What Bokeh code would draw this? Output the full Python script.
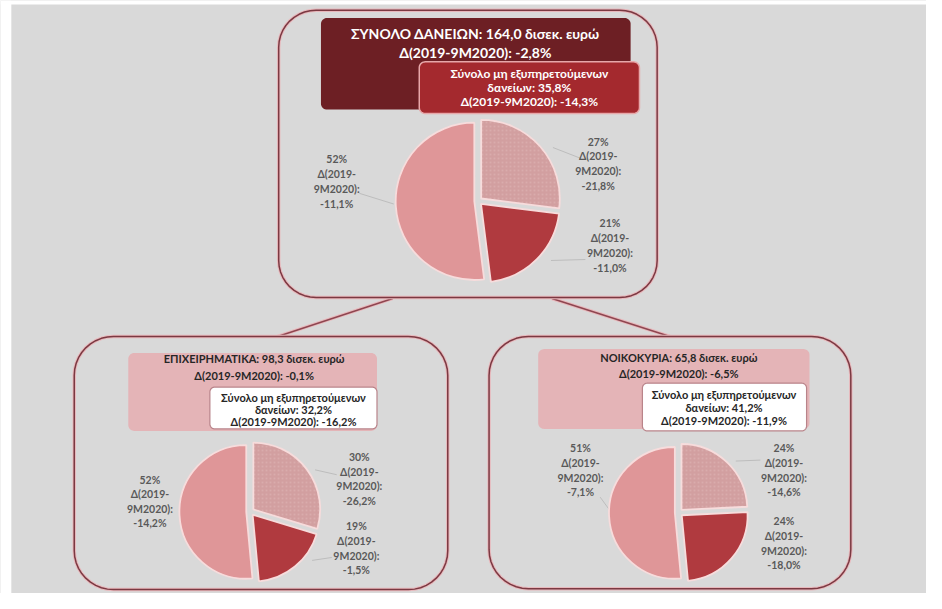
import math
from bokeh.plotting import figure
from bokeh.models import Range1d, ColumnDataSource
from bokeh.core.properties import value
from bokeh.embed import file_html
from bokeh.resources import INLINE

# ---------------- data ----------------
top_title = ["ΣΥΝΟΛΟ ΔΑΝΕΙΩΝ: 164,0 δισεκ. ευρώ", "Δ(2019-9Μ2020): -2,8%"]
top_npl = ["Σύνολο μη εξυπηρετούμενων", "δανείων: 35,8%", "Δ(2019-9Μ2020): -14,3%"]
top_shares = [27, 21, 52]
top_changes = ["-21,8%", "-11,0%", "-11,1%"]

biz_title = ["ΕΠΙΧΕΙΡΗΜΑΤΙΚΑ: 98,3 δισεκ. ευρώ", "Δ(2019-9Μ2020): -0,1%"]
biz_npl = ["Σύνολο μη εξυπηρετούμενων", "δανείων: 32,2%", "Δ(2019-9Μ2020): -16,2%"]
biz_shares = [30, 19, 52]
biz_changes = ["-26,2%", "-1,5%", "-14,2%"]

hh_title = ["ΝΟΙΚΟΚΥΡΙΑ: 65,8 δισεκ. ευρώ", "Δ(2019-9Μ2020): -6,5%"]
hh_npl = ["Σύνολο μη εξυπηρετούμενων", "δανείων: 41,2%", "Δ(2019-9Μ2020): -11,9%"]
hh_shares = [24, 24, 51]
hh_changes = ["-14,6%", "-18,0%", "-7,1%"]

slice_colors = ["#d29fa0", "#b03a3f", "#df9698"]

# ---------------- layout (reference-pixel coordinates) ----------------
FONT = "Lato"
W, H = 926, 593
BG = "#d9d9d9"

p = figure(width=W, height=H, output_backend="svg", toolbar_location=None,
           x_range=Range1d(0, 942), y_range=Range1d(0, 609),
           x_axis_type=None, y_axis_type=None, min_border=0)
p.grid.visible = False
p.outline_line_color = None
p.background_fill_color = BG
p.border_fill_color = BG


def Y(y):
    return 609 - y


# white page strips (left / top) as in the reference scan
p.quad(left=[0, 0], right=[11, 942], bottom=[Y(609), Y(4)], top=[Y(0), Y(0)],
       fill_color="white", line_color=None)


def rrect(x0, y0, x1, y1, r, n=10):
    xs, ys = [], []
    corners = [(x1 - r, y0 + r, 90, 0), (x1 - r, y1 - r, 0, -90),
               (x0 + r, y1 - r, -90, -180), (x0 + r, y0 + r, 180, 90)]
    for cx, cy, a0, a1 in corners:
        for i in range(n + 1):
            a = math.radians(a0 + (a1 - a0) * i / n)
            xs.append(cx + r * math.cos(a))
            ys.append(Y(cy - r * math.sin(a)))
    return xs, ys


def outline_box(x0, y0, x1, y1, r):
    xs, ys = rrect(x0, y0, x1, y1, r)
    xs.append(xs[0]); ys.append(ys[0])
    p.line(xs, ys, line_color="#e8b8bc", line_width=3.5)
    p.line(xs, ys, line_color="#7b3942", line_width=1.5)


def fill_box(x0, y0, x1, y1, r, fill, line=None, lw=1.0):
    xs, ys = rrect(x0, y0, x1, y1, r)
    p.patch(xs, ys, fill_color=fill, line_color=line, line_width=lw)


def texts(lines, cx, ys, size, color, bold=True):
    src = ColumnDataSource(dict(x=[cx] * len(lines), y=[Y(v) for v in ys], t=lines))
    p.text("x", "y", text="t", source=src, text_align="center", text_baseline="middle",
           text_font=value(FONT), text_font_size=size, text_color=color,
           text_font_style="bold" if bold else "normal")


def pie(shares, changes, cx, cy, r, explode, label_pos, spacing=15.2):
    total = float(sum(shares))
    cum = 0.0
    for i, s in enumerate(shares):
        a0 = cum / total * 360.0
        a1 = (cum + s) / total * 360.0
        cum += s
        mid = math.radians(90 - (a0 + a1) / 2)
        x = cx + explode * math.cos(mid)
        y = Y(cy) + explode * math.sin(mid)
        kw = {}
        if i == 0:
            kw = dict(hatch_pattern="dot", hatch_color="#e4c2c2", hatch_scale=4, hatch_alpha=0.35)
        p.wedge(x=x, y=y, radius=r, start_angle=math.radians(90 - a0),
                end_angle=math.radians(90 - a1), direction="clock",
                fill_color=slice_colors[i], line_color="#f7dcdc", line_width=1.8, **kw)
        lx, ly = label_pos[i]
        lines = ["%d%%" % s, "Δ(2019-", "9Μ2020):", changes[i]]
        texts(lines, lx, [ly + k * spacing for k in range(4)], "10.5px", "#595959")


def leaders(segs):
    for (x0, y0, x1, y1) in segs:
        p.line([x0, x1], [Y(y0), Y(y1)], line_color="#bdbdbd", line_width=1)


# connectors between boxes
for seg in [(399, 306, 282, 345), (561, 306, 681, 345)]:
    xs = [seg[0], seg[2]]; ys = [Y(seg[1]), Y(seg[3])]
    p.line(xs, ys, line_color="#e8b8bc", line_width=3.5)
    p.line(xs, ys, line_color="#8e4650", line_width=1.5)

# ---- top block
outline_box(283, 10, 668, 305, 38)
fill_box(326, 18, 641, 112, 6, "#6d1f24")
texts(top_title, 483, [34, 53], "14px", "white")
fill_box(426, 63, 650, 116, 6, "#a4292e", line="#e7a7a9", lw=1.5)
texts(top_npl, 538, [75, 89.5, 104], "12px", "white")
leaders([(365, 198, 400, 209), (562, 151, 590, 162), (560, 267, 595, 266)])
pie(top_shares, top_changes, 486, 206, 80, 4, [(608, 145), (620, 229), (342, 163)])

# ---- business block
outline_box(75, 345, 455, 605, 40)
fill_box(130, 362, 383, 442, 6, "#e4b4b7")
texts(biz_title, 258, [368, 385], "11px", "#262626")
fill_box(213, 397, 383, 440, 5, "white", line="#b9848a", lw=1.2)
texts(biz_npl, 298, [407.5, 420, 432.5], "11px", "#262626")
leaders([(320, 482, 342, 487), (317, 575, 337, 572)])
pie(biz_shares, biz_changes, 254, 525, 68, 4, [(365, 469), (362, 540), (152, 492)], 15)

# ---- household block
outline_box(497, 345, 865, 604, 40)
fill_box(547, 358, 823, 440, 6, "#e4b4b7")
texts(hh_title, 690, [367, 383], "11px", "#262626")
fill_box(653, 393, 820, 442, 5, "white", line="#b9848a", lw=1.2)
texts(hh_npl, 736, [405, 418, 431], "11px", "#262626")
leaders([(748, 473, 773, 472), (610, 510, 623, 528)])
pie(hh_shares, hh_changes, 690, 526, 67, 4, [(797, 460), (797, 535), (590, 460)], 15)

open("out.html", "w").write(file_html(p, INLINE))
